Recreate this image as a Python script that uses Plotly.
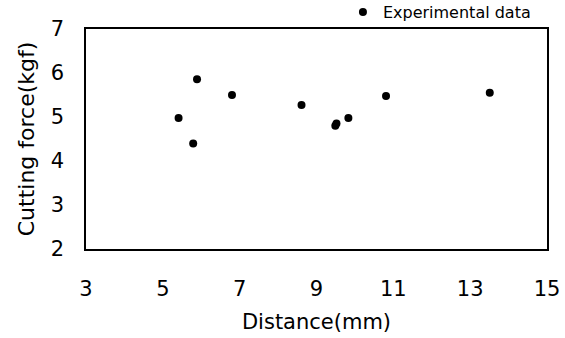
import plotly.graph_objects as go

distance = [5.41, 5.79, 5.89, 6.80, 8.61, 9.49, 9.52, 9.83, 10.81, 13.51]
force = [4.98, 4.40, 5.86, 5.50, 5.27, 4.80, 4.85, 4.98, 5.48, 5.55]
x_ticks = [3, 5, 7, 9, 11, 13, 15]
y_ticks = [2, 3, 4, 5, 6, 7]

FONT = "DejaVu Sans"

fig = go.Figure()
fig.add_trace(go.Scatter(
    x=distance, y=force, mode="markers", name="Experimental data",
    marker=dict(color="black", size=8),
))

fig.update_layout(
    width=565, height=338,
    margin=dict(l=86, r=18, t=29, b=89, autoexpand=False),
    paper_bgcolor="white", plot_bgcolor="white",
    font=dict(family=FONT, color="black"),
    showlegend=True,
    legend=dict(x=0.976, y=1.0, xanchor="right", yanchor="bottom",
                font=dict(size=16, family=FONT), bgcolor="rgba(0,0,0,0)",
                itemwidth=30, tracegroupgap=0),
    xaxis=dict(
        range=[3, 15], tickvals=x_ticks, ticks="", showgrid=False, zeroline=False,
        showline=True, mirror=True, linecolor="black", linewidth=1.5,
        tickfont=dict(size=21), ticklabelstandoff=20,
        title=dict(text="Distance(mm)", font=dict(size=21), standoff=14),
    ),
    yaxis=dict(
        range=[2, 7], tickvals=y_ticks, ticks="", showgrid=False, zeroline=False,
        showline=True, mirror=True, linecolor="black", linewidth=1.5,
        tickfont=dict(size=21), ticklabelstandoff=16,
        title=dict(text="Cutting force(kgf)", font=dict(size=22), standoff=10),
    ),
)

fig.write_html("out.html")
